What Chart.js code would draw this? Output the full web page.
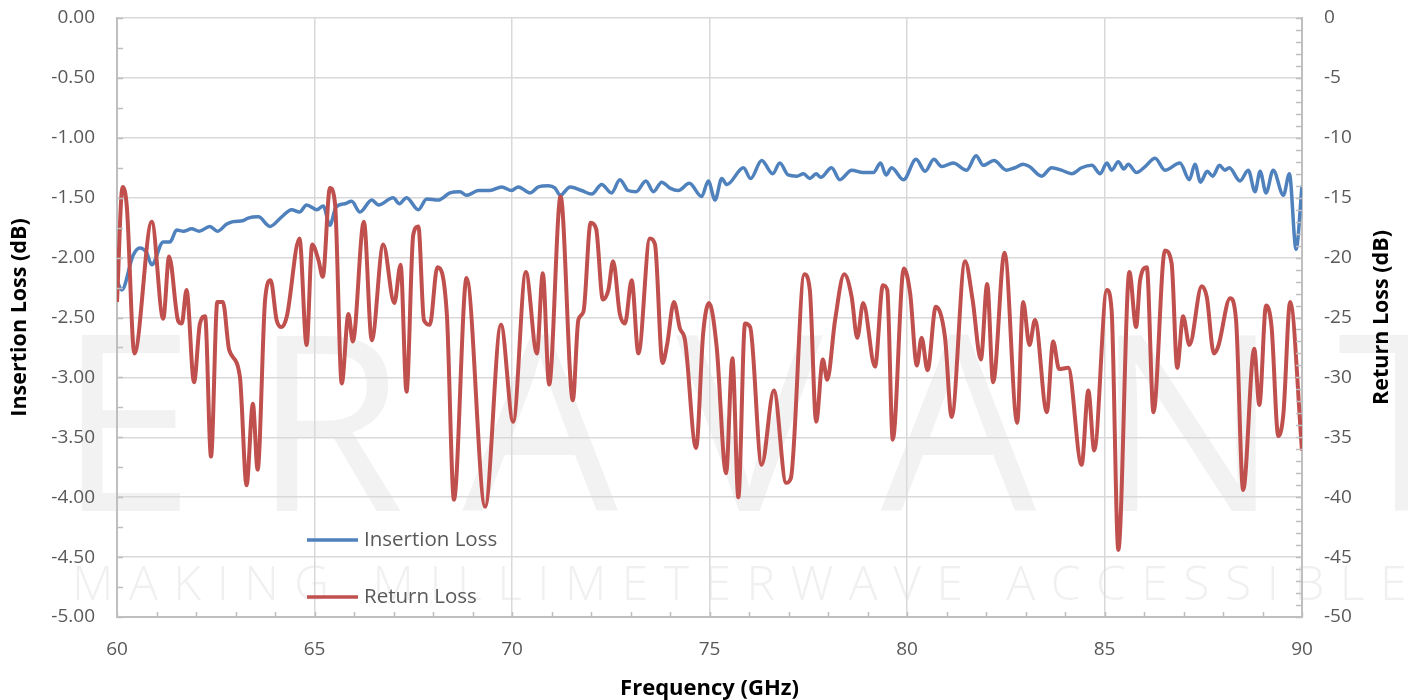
<!DOCTYPE html>
<html>
<head>
<meta charset="utf-8">
<script src="https://cdn.jsdelivr.net/npm/chart.js@4"></script>
<style>
html,body{margin:0;padding:0;background:#fff;}
#wrap{width:1408px;height:700px;}
</style>
</head>
<body>
<div id="wrap"><canvas id="c" width="1408" height="700"></canvas></div>
<script>
// ---------- DATA ----------
const ilFreq = [60.00,60.12,60.41,60.58,60.75,60.88,61.17,61.34,61.51,61.68,
61.89,62.08,62.35,62.54,62.78,62.94,63.20,63.32,63.58,63.87,
64.17,64.42,64.62,64.80,65.06,65.22,65.39,65.54,65.77,65.94,
66.15,66.45,66.62,66.99,67.15,67.33,67.63,67.84,68.13,68.43,
68.68,68.85,69.15,69.44,69.74,69.99,70.16,70.46,70.67,70.92,
71.09,71.22,71.47,71.76,72.02,72.27,72.52,72.73,72.94,73.14,
73.39,73.58,73.79,74.00,74.21,74.49,74.80,74.97,75.14,75.31,
75.44,75.86,76.04,76.32,76.60,76.78,76.99,77.21,77.38,77.54,
77.70,77.82,78.09,78.30,78.60,78.89,79.15,79.33,79.47,79.61,
79.91,80.23,80.46,80.68,80.88,81.17,81.51,81.75,81.93,82.20,
82.52,82.73,82.94,83.10,83.41,83.66,83.91,84.17,84.42,84.68,
84.89,85.06,85.18,85.35,85.49,85.60,85.81,86.03,86.28,86.53,
86.91,87.15,87.29,87.43,87.60,87.74,87.91,88.05,88.16,88.43,
88.64,88.81,88.94,89.09,89.27,89.53,89.68,89.85,90.00];
const ilValues = [-2.19,-2.27,-1.98,-1.92,-1.96,-2.06,-1.87,-1.87,-1.77,-1.78,
-1.76,-1.78,-1.74,-1.78,-1.72,-1.70,-1.69,-1.67,-1.66,-1.74,
-1.66,-1.60,-1.62,-1.56,-1.60,-1.57,-1.73,-1.58,-1.55,-1.53,
-1.62,-1.52,-1.56,-1.50,-1.55,-1.50,-1.60,-1.51,-1.52,-1.46,
-1.45,-1.48,-1.44,-1.44,-1.41,-1.44,-1.41,-1.46,-1.41,-1.40,
-1.42,-1.48,-1.41,-1.44,-1.47,-1.39,-1.46,-1.35,-1.44,-1.45,
-1.36,-1.45,-1.37,-1.42,-1.44,-1.38,-1.49,-1.36,-1.52,-1.34,
-1.39,-1.25,-1.34,-1.19,-1.30,-1.21,-1.31,-1.32,-1.30,-1.34,
-1.30,-1.33,-1.25,-1.35,-1.27,-1.29,-1.29,-1.21,-1.31,-1.25,
-1.35,-1.18,-1.28,-1.18,-1.24,-1.21,-1.27,-1.15,-1.23,-1.19,
-1.27,-1.25,-1.22,-1.24,-1.32,-1.25,-1.27,-1.30,-1.25,-1.23,
-1.30,-1.21,-1.27,-1.20,-1.26,-1.22,-1.29,-1.24,-1.17,-1.27,
-1.21,-1.35,-1.22,-1.37,-1.28,-1.32,-1.23,-1.27,-1.25,-1.36,
-1.27,-1.45,-1.28,-1.46,-1.27,-1.48,-1.30,-1.93,-1.40];

const rlFreq = [60.00,60.14,60.25,60.44,60.88,61.17,61.32,61.55,61.64,61.76,
61.95,62.10,62.23,62.38,62.54,62.68,62.84,63.11,63.28,63.44,
63.56,63.75,63.89,64.04,64.17,64.30,64.62,64.80,64.94,65.10,
65.21,65.39,65.52,65.69,65.86,65.97,66.25,66.45,66.74,67.02,
67.18,67.33,67.50,67.63,67.77,67.92,68.11,68.35,68.53,68.85,
69.32,69.72,70.03,70.35,70.63,70.78,70.94,71.23,71.54,71.68,
71.81,71.99,72.13,72.30,72.44,72.56,72.73,72.86,73.03,73.20,
73.49,73.62,73.81,73.93,74.10,74.25,74.38,74.66,74.84,74.99,
75.18,75.42,75.58,75.73,75.90,76.03,76.32,76.63,76.94,77.06,
77.40,77.54,77.70,77.87,77.98,78.18,78.41,78.60,78.74,78.89,
79.19,79.39,79.50,79.64,79.92,80.08,80.25,80.37,80.52,80.73,
80.96,81.13,81.47,81.66,81.87,82.03,82.18,82.47,82.79,82.94,
83.10,83.24,83.54,83.70,83.85,84.08,84.42,84.59,84.74,85.06,
85.18,85.35,85.63,85.80,85.90,86.07,86.24,86.53,86.70,86.84,
86.99,87.15,87.46,87.59,87.77,87.88,88.18,88.33,88.51,88.79,
88.92,89.09,89.23,89.40,89.53,89.70,90.00];
const rlValues = [-23.7,-14.1,-15.8,-28.0,-17.0,-25.1,-19.9,-25.3,-25.5,-22.7,
-30.4,-25.5,-24.9,-36.6,-23.7,-23.7,-27.7,-29.9,-39.0,-32.2,
-37.7,-23.5,-21.9,-25.2,-25.8,-24.9,-18.4,-27.3,-18.9,-20.2,
-21.6,-14.2,-15.5,-30.5,-24.7,-27.0,-17.0,-26.9,-18.9,-23.8,
-20.6,-31.2,-18.1,-17.4,-25.2,-25.6,-20.8,-24.7,-40.2,-21.7,
-40.8,-25.6,-33.7,-21.2,-28.0,-21.3,-30.6,-14.9,-31.9,-25.2,
-24.5,-17.1,-17.6,-23.5,-22.7,-20.3,-24.7,-25.5,-21.9,-28.0,
-18.4,-18.9,-28.8,-27.2,-23.7,-25.9,-26.9,-35.9,-26.3,-23.8,
-27.4,-38.0,-28.4,-40.0,-25.5,-25.8,-37.3,-31.1,-38.8,-38.4,
-21.4,-22.7,-33.7,-28.5,-30.2,-25.2,-21.4,-23.3,-26.7,-23.8,
-29.1,-22.3,-22.7,-35.2,-20.9,-23.0,-29.0,-26.7,-29.4,-24.1,
-26.6,-33.3,-20.3,-23.5,-28.5,-22.2,-30.4,-19.6,-33.8,-23.7,
-27.3,-25.2,-32.9,-27.0,-29.3,-29.2,-37.3,-31.1,-36.1,-22.7,
-24.4,-44.4,-21.2,-25.8,-21.9,-20.8,-32.9,-19.4,-20.5,-29.2,
-24.9,-27.3,-22.4,-23.3,-28.0,-27.4,-23.4,-25.2,-39.4,-27.6,
-32.3,-24.0,-25.8,-34.9,-33.0,-23.7,-36.1];

const seriesNames = ['Insertion Loss', 'Return Loss'];
const xTitle = 'Frequency (GHz)';
const yLeftTitle = 'Insertion Loss (dB)';
const yRightTitle = 'Return Loss (dB)';
const watermarkMain = 'ERAVANT';
const watermarkSub = 'MAKING MILLIMETERWAVE ACCESSIBLE';

// ---------- STYLE ----------
const BLUE = '#4f81bd';
const RED = '#c0504d';
const GRID = '#d9d9d9';
const AXIS = '#bfbfbf';
const TICKTXT = '#595959';
const FONT = '"Open Sans", "Liberation Sans", sans-serif';
const TICKSIZE = 19;
const TITLESIZE = 21.5;

const toPts = (xs, ys) => xs.map((x, i) => ({x: x, y: ys[i]}));

const watermarkPlugin = {
  id: 'watermark',
  beforeDraw(chart) {
    const ctx = chart.ctx;
    ctx.save();
    ctx.fillStyle = '#f2f2f2';
    ctx.font = '400 246px ' + FONT;
    ctx.letterSpacing = '58px';
    ctx.textBaseline = 'alphabetic';
    ctx.fillText(watermarkMain, 58, 511);
    ctx.fillStyle = '#f0f0f0';
    ctx.font = '300 48px ' + FONT;
    ctx.letterSpacing = '15.5px';
    ctx.fillText(watermarkSub, 72, 600);
    ctx.restore();
  }
};

const decorPlugin = {
  id: 'decor',
  afterDraw(chart) {
    const ctx = chart.ctx;
    const ca = chart.chartArea;
    const sx = chart.scales.x, sy = chart.scales.y, sy2 = chart.scales.y2;
    ctx.save();
    ctx.strokeStyle = AXIS;
    ctx.lineWidth = 1.5;
    ctx.beginPath();
    for (let v = -5; v <= 0.0001; v += 0.25) {
      const p = Math.round(sy.getPixelForValue(v)) + 0.5;
      ctx.moveTo(ca.left, p); ctx.lineTo(ca.left + 6, p);
    }
    for (let v = -50; v <= 0.0001; v += 1) {
      const p = Math.round(sy2.getPixelForValue(v)) + 0.5;
      ctx.moveTo(ca.right, p); ctx.lineTo(ca.right - 6, p);
    }
    for (let v = 60; v <= 90.0001; v += 1) {
      const p = Math.round(sx.getPixelForValue(v)) + 0.5;
      ctx.moveTo(p, ca.bottom); ctx.lineTo(p, ca.bottom - 5);
    }
    ctx.stroke();

    // right axis title (reads bottom-to-top)
    ctx.fillStyle = '#000';
    ctx.font = 'bold ' + TITLESIZE + 'px ' + FONT;
    ctx.textAlign = 'center';
    ctx.textBaseline = 'middle';
    ctx.translate(chart.width - 26, (ca.top + ca.bottom) / 2);
    ctx.rotate(-Math.PI / 2);
    ctx.fillText(yRightTitle, 0, 0);
    ctx.setTransform(1, 0, 0, 1, 0, 0);

    // legend inside the plot
    const ds = chart.data.datasets;
    const rows = [540, 597];
    ds.forEach((d, i) => {
      const y = rows[i];
      ctx.strokeStyle = d.borderColor;
      ctx.lineWidth = 3.5;
      ctx.beginPath();
      ctx.moveTo(307, y); ctx.lineTo(358, y);
      ctx.stroke();
      ctx.fillStyle = TICKTXT;
      ctx.font = '20.5px ' + FONT;
      ctx.textAlign = 'left';
      ctx.textBaseline = 'middle';
      ctx.fillText(d.label, 364, y);
    });
    ctx.restore();
  }
};

new Chart(document.getElementById('c'), {
  type: 'line',
  data: {
    datasets: [
      {
        label: seriesNames[0],
        data: toPts(ilFreq, ilValues),
        yAxisID: 'y',
        borderColor: BLUE,
        backgroundColor: BLUE,
        borderWidth: 3.5,
        pointRadius: 0,
        cubicInterpolationMode: 'monotone',
        order: 1
      },
      {
        label: seriesNames[1],
        data: toPts(rlFreq, rlValues),
        yAxisID: 'y2',
        borderColor: RED,
        backgroundColor: RED,
        borderWidth: 4,
        pointRadius: 0,
        cubicInterpolationMode: 'monotone',
        order: 0
      }
    ]
  },
  options: {
    responsive: false,
    animation: false,
    devicePixelRatio: 1,
    layout: { padding: { top: 18, left: 0, right: 0, bottom: 0 } },
    plugins: { legend: { display: false }, tooltip: { enabled: false } },
    scales: {
      x: {
        type: 'linear',
        min: 60, max: 90,
        ticks: { stepSize: 5, color: TICKTXT, font: { size: TICKSIZE, family: FONT }, padding: 21, maxRotation: 0 },
        grid: { color: GRID, lineWidth: 1.5, drawTicks: false },
        border: { color: AXIS, width: 2 },
        title: { display: true, text: xTitle, color: '#000', font: { size: 22, weight: 'bold', family: FONT }, padding: { top: 0, bottom: -2 } },
        afterFit: s => { s.height = 83; s.paddingLeft = 0; s.paddingRight = 0; }
      },
      y: {
        position: 'left',
        min: -5, max: 0,
        ticks: { stepSize: 0.5, color: TICKTXT, font: { size: TICKSIZE, family: FONT }, padding: 22, callback: v => Number(v).toFixed(2) },
        grid: { color: GRID, lineWidth: 1.5, drawTicks: false },
        border: { color: AXIS, width: 2 },
        title: { display: true, text: yLeftTitle, color: '#000', font: { size: TITLESIZE, weight: 'bold', family: FONT }, padding: { top: 7, bottom: 0 } },
        afterFit: s => { s.width = 117; s.paddingTop = 0; s.paddingBottom = 0; }
      },
      y2: {
        position: 'right',
        min: -50, max: 0,
        ticks: { stepSize: 5, color: TICKTXT, font: { size: TICKSIZE, family: FONT }, padding: 22 },
        grid: { drawOnChartArea: false, drawTicks: false },
        border: { color: AXIS, width: 2 },
        afterFit: s => { s.width = 106; s.paddingTop = 0; s.paddingBottom = 0; }
      }
    }
  },
  plugins: [watermarkPlugin, decorPlugin]
});
</script>
</body>
</html>
